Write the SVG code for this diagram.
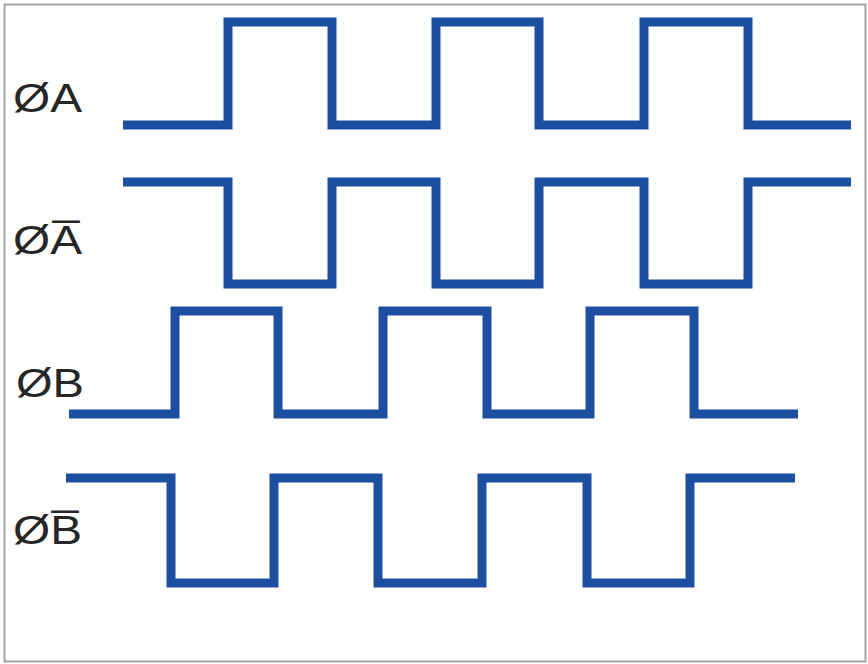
<svg xmlns="http://www.w3.org/2000/svg" width="868" height="664" viewBox="0 0 868 664">
<style>
.frame{fill:#ffffff;stroke:#a3a3a3;stroke-width:2}
.wave{fill:none;stroke:#1c4fa1;stroke-width:9;stroke-linejoin:miter;stroke-linecap:butt}
.lbl{font-family:"Liberation Sans",Arial,sans-serif;font-size:40px;fill:#262626}
.bar{stroke:#262626;stroke-width:2.5}
</style>
<rect class="frame" x="4.5" y="4.5" width="861" height="657"/>
<g id="signal-A">
<text class="lbl" x="13" y="112" textLength="69" lengthAdjust="spacingAndGlyphs">ØA</text>
<path class="wave" d="M123,125 H228 V22 H332 V125 H436 V22 H539 V125 H644 V22 H748 V125 H851"/>
</g>
<g id="signal-A-bar">
<text class="lbl" x="13" y="254" textLength="69" lengthAdjust="spacingAndGlyphs">ØA̅</text>
<path class="wave" d="M123,182 H228 V284 H332 V182 H436 V284 H539 V182 H644 V284 H748 V182 H851"/>
</g>
<g id="signal-B">
<text class="lbl" x="16" y="397" textLength="68" lengthAdjust="spacingAndGlyphs">ØB</text>
<path class="wave" d="M69,414 H175 V311 H278 V414 H383 V311 H487 V414 H590 V311 H694 V414 H798"/>
</g>
<g id="signal-B-bar">
<text class="lbl" x="13" y="544" textLength="69" lengthAdjust="spacingAndGlyphs">ØB̅</text>
<path class="wave" d="M66,478 H171 V583 H274 V478 H378 V583 H482 V478 H587 V583 H690 V478 H795"/>
</g>
<g id="connectors"/>
</svg>
